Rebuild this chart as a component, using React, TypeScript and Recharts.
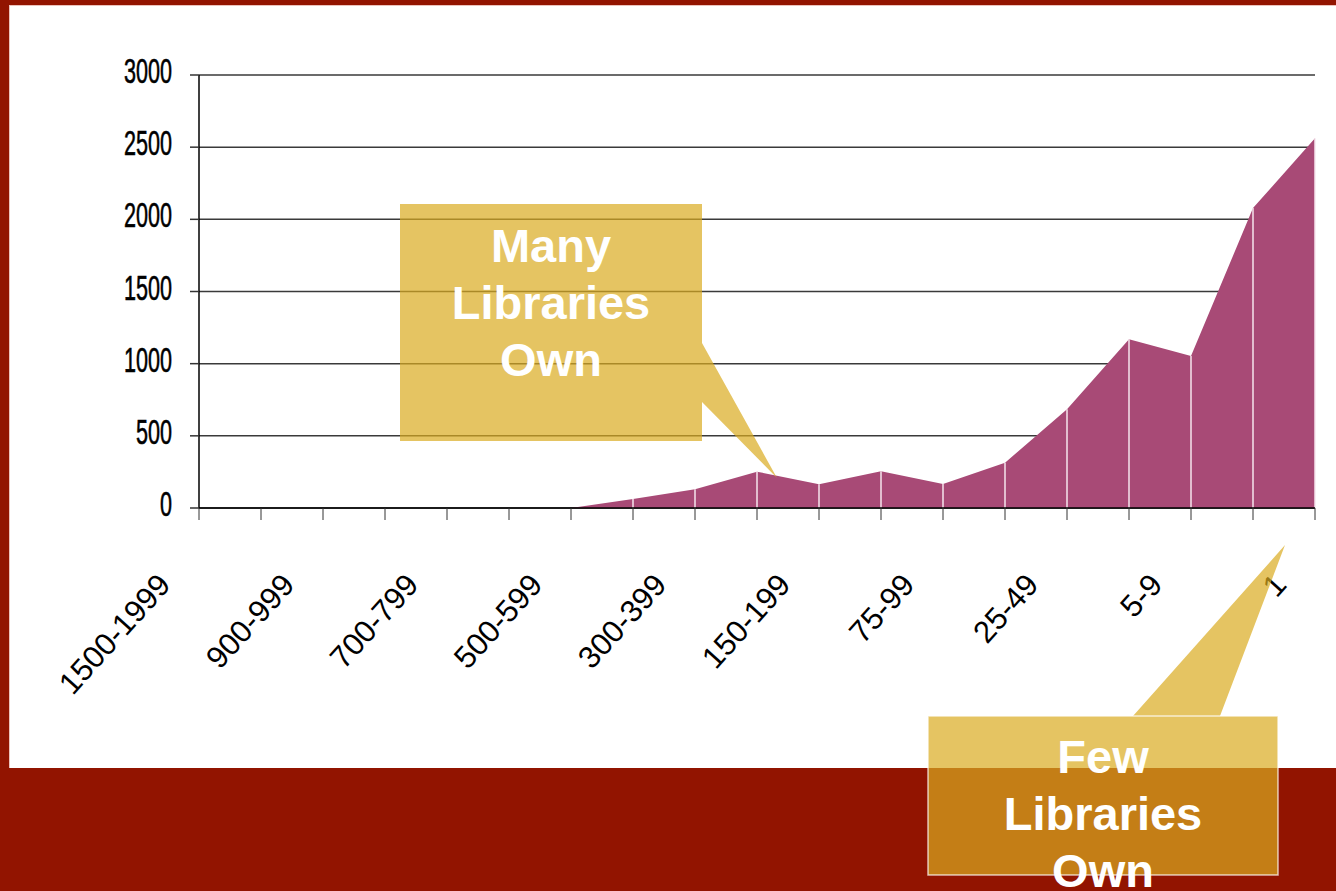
import React from "react";
import { AreaChart, Area, XAxis, YAxis, CartesianGrid, ReferenceLine } from "recharts";

const categories = [
  "1500-1999", "1000-1499", "900-999", "800-899", "700-799", "600-699",
  "500-599", "400-499", "300-399", "200-299", "150-199", "100-149",
  "75-99", "50-74", "25-49", "10-24", "5-9", "2-4", "1",
];
const titles = [0, 0, 0, 0, 0, 0, 0, 62, 130, 252, 164, 254, 166, 314, 684, 1169, 1053, 2078, 2561];
const yTicks = [0, 500, 1000, 1500, 2000, 2500, 3000];
const calloutMany = ["Many", "Libraries", "Own"];
const calloutFew = ["Few", "Libraries", "Own"];

const data = categories.map((c, i) => ({ range: c, value: titles[i] }));

const RED = "#921400";
const CALLOUT = "rgb(218,171,32)";

const XTick = (props: any) => {
  const { x, y, payload, index } = props;
  if (index % 2 !== 0) return null;
  return (
    <text
      transform={`translate(${x - 27},${y + 64}) rotate(-48)`}
      textAnchor="end"
      fontFamily="'Liberation Sans', Arial, sans-serif"
      fontSize={31}
      fill="#000"
    >
      {payload.value}
    </text>
  );
};

const YTick = (props: any) => {
  const { x, y, payload } = props;
  return (
    <g transform={`translate(${x - 16},${y + 8})`}>
      <text
        transform="scale(0.6,1)"
        textAnchor="end"
        fontFamily="'Liberation Sans', Arial, sans-serif"
        fontSize={36}
        stroke="#000"
        strokeWidth={0.6}
        fill="#000"
      >
        {payload.value}
      </text>
    </g>
  );
};

const textStyle = {
  fontFamily: "'Liberation Sans', Arial, sans-serif",
  fontWeight: 700,
  fontSize: 47,
  fill: "#fff",
} as const;

export default function App() {
  return (
    <div
      style={{
        position: "absolute",
        left: 0,
        top: 0,
        width: 1336,
        height: 891,
        background: "#fff",
        overflow: "hidden",
      }}
    >
      <AreaChart
        width={1336}
        height={891}
        data={data}
        margin={{ top: 75, right: 21, bottom: 0, left: 0 }}
      >
        <CartesianGrid vertical={false} stroke="#3a3a3a" strokeWidth={1.5} />
        <XAxis
          dataKey="range"
          interval={0}
          height={383}
          tick={<XTick />}
          tickSize={12}
          tickLine={{ stroke: "#333" }}
          axisLine={{ stroke: "#000", strokeWidth: 1.5 }}
        />
        <YAxis
          width={199}
          domain={[0, 3000]}
          ticks={yTicks}
          interval={0}
          tick={<YTick />}
          tickSize={9}
          tickLine={{ stroke: "#333", strokeWidth: 1.5 }}
          axisLine={{ stroke: "#000", strokeWidth: 1.5 }}
        />
        <Area
          type="linear"
          dataKey="value"
          fill="#A84A76"
          fillOpacity={1}
          stroke="none"
          dot={false}
          activeDot={false}
          isAnimationActive={false}
        />
        {data.map((d) => (
          <ReferenceLine
            key={d.range}
            segment={[
              { x: d.range, y: 0 },
              { x: d.range, y: d.value },
            ]}
            stroke="#F6E6EE"
            strokeWidth={1.5}
          />
        ))}
      </AreaChart>
      <svg
        width={1336}
        height={891}
        style={{ position: "absolute", left: 0, top: 0, pointerEvents: "none" }}
      >
        <rect x={0} y={0} width={1336} height={5} fill={RED} />
        <rect x={0} y={0} width={9} height={891} fill={RED} />
        <line x1={9.5} y1={5} x2={9.5} y2={768} stroke="#EBC2BC" strokeWidth={1} />
        <line x1={9} y1={5.5} x2={1336} y2={5.5} stroke="#EBC2BC" strokeWidth={1} />
        <rect x={0} y={768} width={1336} height={123} fill={RED} />

        <polygon
          points="400,204 702,204 702,343 777,478 702,402 702,441 400,441"
          fill={CALLOUT}
          fillOpacity={0.7}
        />
        <polygon
          points="928,716 1133,716 1285,545 1220,716 1278,716 1278,875 928,875"
          fill={CALLOUT}
          fillOpacity={0.7}
        />
        <rect x={928} y={716} width={350} height={159} fill="none" stroke="#fff" strokeOpacity={0.7} strokeWidth={1.5} />

        {calloutMany.map((t, i) => (
          <text key={"m" + i} x={551} y={262 + i * 57} textAnchor="middle" style={textStyle}>
            {t}
          </text>
        ))}
        {calloutFew.map((t, i) => (
          <text key={"f" + i} x={1103} y={773 + i * 57} textAnchor="middle" style={textStyle}>
            {t}
          </text>
        ))}
      </svg>
    </div>
  );
}
